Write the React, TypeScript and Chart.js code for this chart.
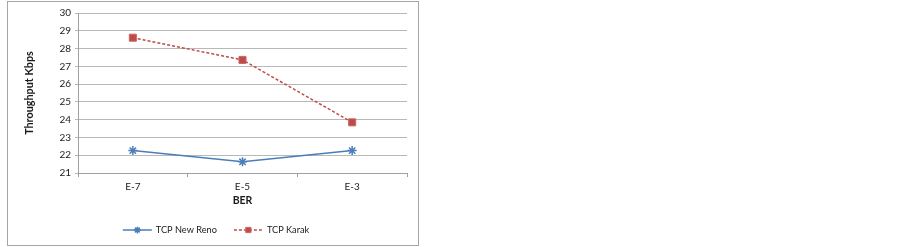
import React, { useEffect, useRef } from "react";
import { Chart, registerables } from "chart.js";
import { drawPoint } from "chart.js/helpers";

Chart.register(...registerables);

const categories = ["E-7", "E-5", "E-3"];
const newRenoValues = [22.26, 21.63, 22.26];
const karakValues = [28.61, 27.36, 23.85];
const yMin = 21;
const yMax = 30;

const FONT = "Lato, 'Liberation Sans', sans-serif";
const BLUE = "#4A7EBB";
const RED = "#BE4B48";

// Excel-style legend: a short line with a small marker in the middle, then the label
const lineLegend = {
  id: "lineLegend",
  afterDraw(chart: any) {
    const ctx = chart.ctx;
    const y = 228;
    const lineLen = 29;
    const gapText = 4;
    const gapItems = 17;
    ctx.save();
    ctx.font = `9.2px ${FONT}`;
    const items = chart.data.datasets.map((ds: any) => ({
      ds,
      w: lineLen + gapText + ctx.measureText(ds.label).width,
    }));
    const total = items.reduce((s: number, it: any) => s + it.w, 0) + gapItems * (items.length - 1);
    let x = chart.width / 2 + 3 - total / 2;
    for (const it of items) {
      const ds = it.ds;
      ctx.strokeStyle = ds.borderColor;
      ctx.lineWidth = ds.borderWidth;
      ctx.setLineDash(ds.borderDash || []);
      ctx.beginPath();
      ctx.moveTo(x, y);
      ctx.lineTo(x + lineLen, y);
      ctx.stroke();
      ctx.setLineDash([]);
      ctx.fillStyle = ds.pointBackgroundColor;
      ctx.strokeStyle = ds.pointBorderColor;
      ctx.lineWidth = ds.pointBorderWidth;
      drawPoint(
        ctx,
        { pointStyle: ds.pointStyle, radius: ds.pointRadius * 0.75, rotation: 0, borderWidth: ds.pointBorderWidth },
        x + lineLen / 2,
        y
      );
      ctx.fillStyle = "#1a1a1a";
      ctx.textBaseline = "middle";
      ctx.textAlign = "left";
      ctx.fillText(ds.label, x + lineLen + gapText, y + 0.5);
      x += it.w + gapItems;
    }
    ctx.restore();
  },
};

export default function App() {
  const canvasRef = useRef<HTMLCanvasElement | null>(null);

  useEffect(() => {
    const canvas = canvasRef.current;
    if (!canvas) return;
    const chart = new Chart(canvas, {
      type: "line",
      data: {
        labels: categories,
        datasets: [
          {
            label: "TCP New Reno",
            data: newRenoValues,
            borderColor: BLUE,
            borderWidth: 1.5,
            pointStyle: "star",
            pointRadius: 4.5,
            pointBorderWidth: 1.5,
            pointBackgroundColor: BLUE,
            pointBorderColor: BLUE,
            tension: 0,
          },
          {
            label: "TCP Karak",
            data: karakValues,
            borderColor: RED,
            borderWidth: 1.5,
            borderDash: [3, 2],
            pointStyle: "rect",
            pointRadius: 5,
            pointBorderWidth: 1,
            pointBackgroundColor: RED,
            pointBorderColor: "#c96a68",
            tension: 0,
          },
        ],
      },
      options: {
        animation: false,
        responsive: false,
        maintainAspectRatio: false,
        layout: { padding: { left: 0, top: 11, right: 11, bottom: 0 } },
        plugins: {
          legend: { display: false },
          tooltip: { enabled: false },
        },
        scales: {
          x: {
            type: "category",
            offset: true,
            grid: {
              display: true,
              offset: true,
              drawOnChartArea: false,
              drawTicks: true,
              tickLength: 4,
              color: "#a0a0a0",
            },
            border: { display: true, color: "#a0a0a0" },
            ticks: {
              color: "#1a1a1a",
              font: { family: FONT, size: 10 },
              padding: 4,
              maxRotation: 0,
            },
            title: {
              display: true,
              text: "BER",
              color: "#1a1a1a",
              font: { family: FONT, size: 10.5, weight: "bold" },
              padding: { top: 0, bottom: 38 },
            },
            afterFit: (scale: any) => {
              scale.height = 72;
            },
          },
          y: {
            min: yMin,
            max: yMax,
            grid: {
              color: "#b8b8b8",
              drawTicks: true,
              tickLength: 3,
            },
            border: { display: true, color: "#a0a0a0" },
            ticks: {
              stepSize: 1,
              color: "#1a1a1a",
              font: { family: FONT, size: 10 },
              padding: 4,
            },
            title: {
              display: true,
              text: "Throughput Kbps",
              color: "#1a1a1a",
              font: { family: FONT, size: 10.8, weight: "bold" },
              padding: { top: 15, bottom: 0 },
            },
            afterFit: (scale: any) => {
              scale.width = 70;
            },
          },
        },
      },
      plugins: [lineLegend],
    });
    return () => chart.destroy();
  }, []);

  return (
    <div style={{ position: "fixed", left: 0, top: 0, width: 903, height: 247, background: "#fff" }}>
      <div
        style={{
          position: "absolute",
          left: 7,
          top: 1,
          width: 410,
          height: 243,
          border: "1px solid #a6a6a6",
        }}
      >
        <canvas ref={canvasRef} width={410} height={243} style={{ display: "block", width: 410, height: 243 }} />
      </div>
    </div>
  );
}
